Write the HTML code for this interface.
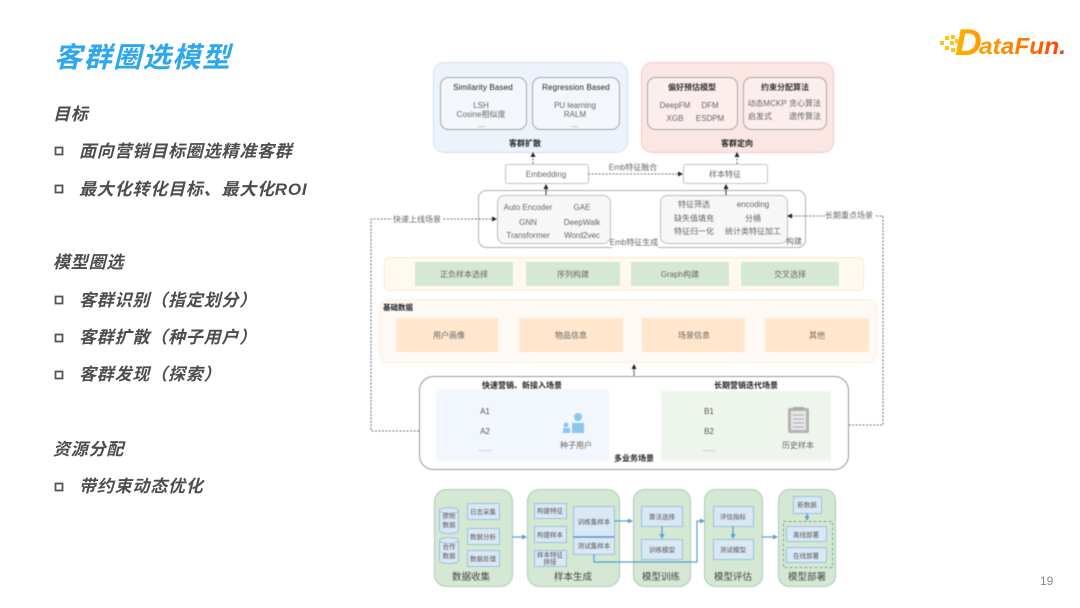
<!DOCTYPE html>
<html><head><meta charset="utf-8"><style>
html,body{margin:0;padding:0;background:#fff}
body{width:1080px;height:608px;overflow:hidden;position:relative;font-family:"Liberation Sans","Noto Sans CJK SC",sans-serif}
svg{position:absolute;left:0;top:0}
text{font-family:"Liberation Sans","Noto Sans CJK SC",sans-serif}
.l{font-style:italic;fill:#4d4d4d;font-size:17px;letter-spacing:.8px;font-weight:700;stroke:none}
.t{font-size:8px;fill:#666;text-anchor:middle}
.b{font-size:8px;fill:#222;text-anchor:middle;font-weight:700}
.s{font-size:6.5px;fill:#555;text-anchor:middle}
.c{font-size:9.5px;fill:#444;text-anchor:middle}
</style></head><body>
<svg width="1080" height="608" viewBox="0 0 1080 608" xmlns="http://www.w3.org/2000/svg">
<defs>
<marker id="k" markerWidth="6" markerHeight="6" refX="4" refY="2.5" orient="auto" markerUnits="userSpaceOnUse"><path d="M0 0L5 2.5L0 5z" fill="#222"/></marker>
<marker id="u" markerWidth="6" markerHeight="6" refX="4" refY="2.5" orient="auto" markerUnits="userSpaceOnUse"><path d="M0 0L5 2.5L0 5z" fill="#5b9bd5"/></marker>
<linearGradient id="lg" x1="0" x2="1" y1="0" y2="0"><stop offset="0" stop-color="#ffb300"/><stop offset="1" stop-color="#ff9800"/></linearGradient>
<linearGradient id="lg2" gradientUnits="userSpaceOnUse" x1="978" x2="1066" y1="0" y2="0"><stop offset="0" stop-color="#ffa400"/><stop offset=".5" stop-color="#ff7a00"/><stop offset="1" stop-color="#ff3a00"/></linearGradient>
</defs>

<text x="54" y="67" font-size="28" font-style="italic" font-weight="700" fill="#2ea7ef" letter-spacing="1.6">客群圈选模型</text>
<text class="l" x="53" y="120">目标</text>
<rect x="55.500" y="147.500" width="7" height="7" fill="none" stroke="#555" stroke-width="1.800"/>
<text class="l" x="79" y="157">面向营销目标圈选精准客群</text>
<rect x="55.500" y="185.500" width="7" height="7" fill="none" stroke="#555" stroke-width="1.800"/>
<text class="l" x="79" y="195">最大化转化目标、最大化ROI</text>
<text class="l" x="53" y="268">模型圈选</text>
<rect x="55.500" y="296.500" width="7" height="7" fill="none" stroke="#555" stroke-width="1.800"/>
<text class="l" x="79" y="306">客群识别（指定划分）</text>
<rect x="55.500" y="334.500" width="7" height="7" fill="none" stroke="#555" stroke-width="1.800"/>
<text class="l" x="79" y="343">客群扩散（种子用户）</text>
<rect x="55.500" y="371.500" width="7" height="7" fill="none" stroke="#555" stroke-width="1.800"/>
<text class="l" x="79" y="380">客群发现（探索）</text>
<text class="l" x="53" y="455">资源分配</text>
<rect x="55.500" y="483.500" width="7" height="7" fill="none" stroke="#555" stroke-width="1.800"/>
<text class="l" x="79" y="492">带约束动态优化</text>

<g fill="#ffc21a">
<rect x="940" y="41" width="4" height="4"/><rect x="945" y="36" width="4" height="4"/><rect x="950" y="41" width="4" height="4"/><rect x="951" y="35" width="4" height="4"/><rect x="945" y="46" width="4" height="4"/><rect x="955" y="39" width="3" height="4"/><rect x="951" y="48" width="4" height="4"/>
</g>
<text x="955" y="55" font-size="37" font-weight="700" font-style="italic" fill="url(#lg)">D</text>
<text x="979" y="54" font-size="23" font-weight="700" font-style="italic" fill="url(#lg2)" textLength="87" lengthAdjust="spacingAndGlyphs">ataFun.</text>
<text x="1040" y="585" font-size="12" fill="#888">19</text>

<g style="filter:blur(.45px)">
<rect x="433.500" y="62.500" width="194" height="90" rx="11" fill="#edf3fb" stroke="#cfe0f3"/>
<rect x="440.500" y="77.500" width="86" height="52" rx="8" fill="#f3f6fb" stroke="#a8a8a8"/>
<rect x="532.500" y="77.500" width="87" height="52" rx="8" fill="#f3f6fb" stroke="#a8a8a8"/>
<text class="b" x="483" y="90" style="font-weight:400;fill:#222;letter-spacing:.15px">Similarity Based</text>
<text class="b" x="576" y="90" style="font-weight:400;fill:#222;letter-spacing:.15px">Regression Based</text>
<text class="t" x="481" y="108">LSH</text><text class="t" x="481" y="117">Cosine相似度</text><text class="s" x="481" y="127">....</text>
<text class="t" x="575" y="108">PU learning</text><text class="t" x="575" y="117">RALM</text><text class="s" x="575" y="127">....</text>
<text class="b" x="525" y="146">客群扩散</text>

<rect x="641.500" y="62.500" width="192" height="90" rx="11" fill="#fbe6e4" stroke="#f3c9c5"/>
<rect x="647.500" y="77.500" width="90" height="52" rx="8" fill="#fbeeec" stroke="#a8a8a8"/>
<rect x="743.500" y="77.500" width="83" height="52" rx="8" fill="#fbeeec" stroke="#a8a8a8"/>
<text class="b" x="692" y="90" style="font-weight:700;fill:#333">偏好预估模型</text>
<text class="b" x="785" y="90" style="font-weight:700;fill:#333">约束分配算法</text>
<text class="t" x="675" y="108">DeepFM</text><text class="t" x="710" y="108">DFM</text><text class="t" x="675" y="121">XGB</text><text class="t" x="710" y="121">ESDPM</text>
<text class="t" x="767" y="106">动态MCKP</text><text class="t" x="805" y="106">贪心算法</text><text class="t" x="760" y="119">启发式</text><text class="t" x="805" y="119">遗传算法</text>
<text class="b" x="737" y="146">客群定向</text>

<rect x="505.500" y="164.500" width="83" height="19" rx="2" fill="#fff" stroke="#c4c4c4"/>
<text class="t" x="546" y="177">Embedding</text>
<rect x="683.500" y="164.500" width="84" height="19" rx="2" fill="#fff" stroke="#c4c4c4"/>
<text class="t" x="725" y="177">样本特征</text>
<path d="M533 164V153" stroke="#444" stroke-width=".8" stroke-dasharray="2 1.500" fill="none" marker-end="url(#k)"/>
<path d="M737 164V153" stroke="#444" stroke-width=".8" stroke-dasharray="2 1.500" fill="none" marker-end="url(#k)"/>
<path d="M588 174H682" stroke="#444" stroke-width=".8" stroke-dasharray="2 1.500" fill="none" marker-end="url(#k)"/>
<text class="t" x="633" y="170">Emb特征融合</text>

<rect x="478.500" y="190.500" width="327" height="57" rx="8" fill="#fff" stroke="#b0b0b0"/>
<path d="M546 195V185" stroke="#333" stroke-width="1" fill="none" marker-end="url(#k)"/>
<path d="M726 195V185" stroke="#333" stroke-width="1" fill="none" marker-end="url(#k)"/>
<rect x="497.500" y="195.500" width="113" height="48" rx="7" fill="#f7f7f7" stroke="#bdbdbd"/>
<rect x="660.500" y="195.500" width="127" height="48" rx="7" fill="#f7f7f7" stroke="#bdbdbd"/>
<text class="t" x="528" y="210">Auto Encoder</text><text class="t" x="582" y="210">GAE</text>
<text class="t" x="528" y="225">GNN</text><text class="t" x="582" y="225">DeepWalk</text>
<text class="t" x="528" y="238">Transformer</text><text class="t" x="582" y="238">Word2vec</text>
<text class="t" x="694" y="207">特征筛选</text><text class="t" x="753" y="207">encoding</text>
<text class="t" x="694" y="221">缺失值填充</text><text class="t" x="753" y="221">分桶</text>
<text class="t" x="694" y="234">特征归一化</text><text class="t" x="753" y="234">统计类特征加工</text>
<rect x="612" y="241" width="46" height="9" fill="#fff"/>
<text class="t" x="634" y="245">Emb特征生成</text>
<text class="t" x="794" y="244">构建</text>

<path d="M419 431H371V219H496" stroke="#444" stroke-width=".8" stroke-dasharray="2 1.500" fill="none" marker-end="url(#k)"/>
<path d="M831 425H883V216H788" stroke="#444" stroke-width=".8" stroke-dasharray="2 1.500" fill="none" marker-end="url(#k)"/>
<rect x="392" y="214" width="50" height="10" fill="#fff"/><text class="t" x="417" y="222">快速上线场景</text>
<rect x="825" y="210" width="50" height="10" fill="#fff"/><text class="t" x="849" y="218">长期重点场景</text>

<rect x="384.500" y="257.500" width="479" height="33" rx="5" fill="#fefaf0" stroke="#f8ebcb"/>
<rect x="415" y="262" width="98" height="24" fill="#d5e8d4"/><text class="t" x="464" y="277">正负样本选择</text>
<rect x="526" y="262" width="94" height="24" fill="#d5e8d4"/><text class="t" x="573" y="277">序列构建</text>
<rect x="631" y="262" width="98" height="24" fill="#d5e8d4"/><text class="t" x="680" y="277">Graph构建</text>
<rect x="741" y="262" width="98" height="24" fill="#d5e8d4"/><text class="t" x="790" y="277">交叉选择</text>

<rect x="379.500" y="299.500" width="497" height="63" rx="9" fill="#fef9f4" stroke="#fbeed9"/>
<text class="b" x="398" y="310" style="font-size:7.500px">基础数据</text>
<rect x="396" y="318" width="102" height="34" fill="#ffe6cc"/><text class="t" x="449" y="338">用户画像</text>
<rect x="519" y="318" width="104" height="34" fill="#ffe6cc"/><text class="t" x="571" y="338">物品信息</text>
<rect x="642" y="318" width="103" height="34" fill="#ffe6cc"/><text class="t" x="694" y="338">场景信息</text>
<rect x="765" y="318" width="104" height="34" fill="#ffe6cc"/><text class="t" x="817" y="338">其他</text>
<path d="M634 376V365" stroke="#666" stroke-width="1" fill="none" marker-end="url(#k)"/>

<rect x="419.500" y="376.500" width="429" height="93" rx="14" fill="#fff" stroke="#999"/>
<rect x="436" y="389" width="173" height="72" fill="#f2f6fd"/>
<rect x="661" y="391" width="170" height="70" fill="#eef5ec"/>
<text class="b" x="522" y="388">快速营销、新接入场景</text>
<text class="b" x="746" y="388">长期营销迭代场景</text>
<text class="b" x="634" y="461">多业务场景</text>
<text class="t" x="485" y="414" style="fill:#555">A1</text><text class="t" x="485" y="434" style="fill:#555">A2</text><text class="s" x="485" y="451">……</text>
<text class="t" x="709" y="414" style="fill:#555">B1</text><text class="t" x="709" y="434" style="fill:#555">B2</text><text class="s" x="709" y="451">……</text>
<text class="t" x="576" y="448">种子用户</text><text class="t" x="798" y="448">历史样本</text>
<g fill="#8cc8ee"><circle cx="578" cy="417" r="4"/><rect x="572" y="423" width="12" height="10"/><circle cx="566" cy="425" r="2.500"/><rect x="563" y="428" width="7" height="5"/></g>
<rect x="788" y="408" width="21" height="25" rx="2" fill="#b3b3b3"/><rect x="791" y="411" width="15" height="19" fill="#e6e6e6"/>
<path d="M793 415H804M793 419H804M793 423H804M793 427H804" stroke="#999" stroke-width=".8"/>
<rect x="793" y="407" width="11" height="3" fill="#aaa"/>

<g fill="#d5e8d4" stroke="#a9c9bd" stroke-width="1">
<rect x="434.500" y="489.500" width="78" height="97" rx="12"/>
<rect x="527.500" y="489.500" width="92" height="97" rx="12"/>
<rect x="633.500" y="489.500" width="57" height="97" rx="11"/>
<rect x="704.500" y="489.500" width="58" height="97" rx="11"/>
<rect x="778.500" y="489.500" width="57" height="97" rx="11"/>
</g>
<text class="c" x="471" y="580">数据收集</text><text class="c" x="573" y="580">样本生成</text><text class="c" x="661" y="580">模型训练</text><text class="c" x="733" y="580">模型评估</text><text class="c" x="807" y="580">模型部署</text>
<g fill="#dae8f5" stroke="#9cc2d8" stroke-width="1">
<path d="M439.500 510.500v20a9.500 3 0 0 0 19 0v-20"/><ellipse cx="449" cy="510.500" rx="9.500" ry="3"/>
<path d="M439.500 540.500v20a9.500 3 0 0 0 19 0v-20"/><ellipse cx="449" cy="540.500" rx="9.500" ry="3"/>
<rect x="467.500" y="503.500" width="32" height="16"/><rect x="467.500" y="528.500" width="32" height="16"/><rect x="467.500" y="550.500" width="32" height="16"/>
<rect x="534.500" y="503.500" width="32" height="15"/><rect x="534.500" y="526.500" width="32" height="16"/><rect x="534.500" y="550.500" width="32" height="16"/>
<rect x="573.500" y="506.500" width="41" height="30"/><rect x="573.500" y="537.500" width="41" height="17"/>
<rect x="641.500" y="506.500" width="41" height="20"/><rect x="641.500" y="539.500" width="41" height="20"/>
<rect x="713.500" y="506.500" width="40" height="20"/><rect x="713.500" y="539.500" width="40" height="20"/>
<rect x="793.500" y="496.500" width="28" height="17"/>
<rect x="786.500" y="526.500" width="40" height="15"/><rect x="786.500" y="547.500" width="40" height="15"/>
</g>
<rect x="783.500" y="521.500" width="49" height="46" fill="none" stroke="#7fa98c" stroke-dasharray="3 2"/>
<path d="M573 537H614" stroke="#5b9bd5" stroke-width="1.200"/>
<g stroke="#5b9bd5" stroke-width="1.200" fill="none">
<path d="M512 537H526" marker-end="url(#u)"/>
<path d="M614 521H632" marker-end="url(#u)"/>
<path d="M594 554V562H697V521H704" marker-end="url(#u)"/>
<path d="M662 526V538" marker-end="url(#u)"/>
<path d="M733 526V538" marker-end="url(#u)"/>
<path d="M762 537H777" marker-end="url(#u)"/>
<path d="M807 513V520" marker-end="url(#u)"/>
</g>
<text class="s" x="449" y="518">原始</text><text class="s" x="449" y="527">数据</text>
<text class="s" x="449" y="549">合作</text><text class="s" x="449" y="558">数据</text>
<text class="s" x="483" y="514">日志采集</text><text class="s" x="483" y="539">数据分析</text><text class="s" x="483" y="561">数据处理</text>
<text class="s" x="550" y="513">构建特征</text><text class="s" x="550" y="537">构建样本</text>
<text class="s" x="550" y="557">样本特征</text><text class="s" x="550" y="564">拼接</text>
<text class="s" x="594" y="524">训练集样本</text><text class="s" x="594" y="548">测试集样本</text>
<text class="s" x="662" y="519">算法选择</text><text class="s" x="662" y="552">训练模型</text>
<text class="s" x="733" y="519">评估指标</text><text class="s" x="733" y="552">测试模型</text>
<text class="s" x="807" y="507">新数据</text><text class="s" x="806" y="537">离线部署</text><text class="s" x="806" y="558">在线部署</text>
</g>
</svg>
</body></html>
